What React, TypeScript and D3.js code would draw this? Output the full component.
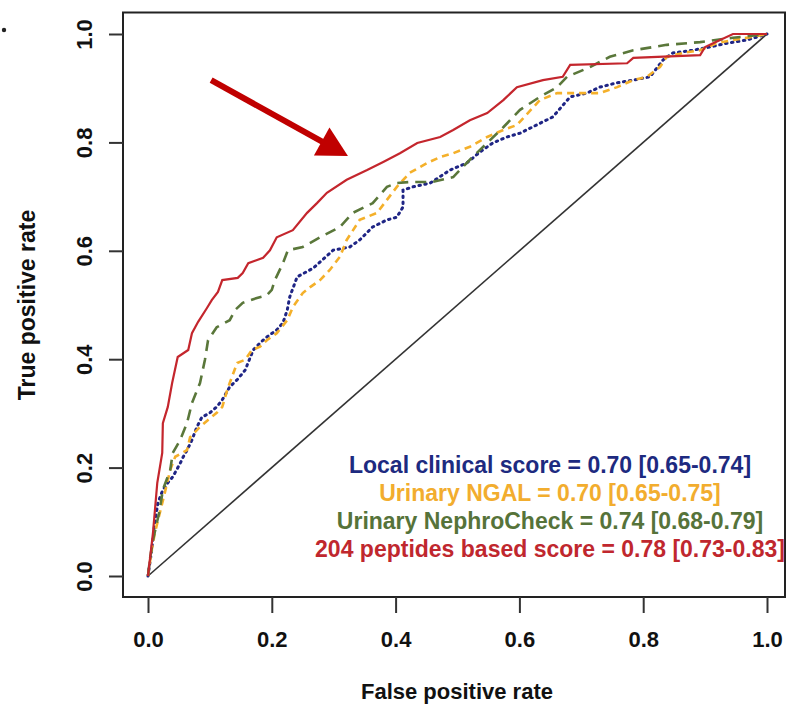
import React, { useEffect, useRef } from "react";
import * as d3 from "d3";

// ROC points: [false positive rate, true positive rate]
const localClinical: [number, number][] = [
  [0, 0], [0.006, 0.048], [0.011, 0.098], [0.016, 0.135], [0.024, 0.159], [0.032, 0.172],
  [0.04, 0.183], [0.052, 0.208], [0.057, 0.22], [0.063, 0.232], [0.071, 0.251], [0.079, 0.275],
  [0.087, 0.293], [0.1, 0.301], [0.111, 0.312], [0.12, 0.325], [0.132, 0.349], [0.144, 0.362],
  [0.157, 0.38], [0.17, 0.417], [0.181, 0.43], [0.192, 0.441], [0.208, 0.454], [0.218, 0.467],
  [0.225, 0.491], [0.229, 0.515], [0.241, 0.552], [0.267, 0.568], [0.299, 0.601], [0.326, 0.607],
  [0.342, 0.62], [0.363, 0.644], [0.386, 0.657], [0.402, 0.662], [0.412, 0.681], [0.412, 0.712],
  [0.428, 0.718], [0.456, 0.725], [0.488, 0.749], [0.515, 0.762], [0.536, 0.782], [0.557, 0.799],
  [0.58, 0.81], [0.601, 0.817], [0.654, 0.847], [0.682, 0.884], [0.709, 0.891], [0.73, 0.902],
  [0.758, 0.91], [0.784, 0.915], [0.811, 0.921], [0.832, 0.952], [0.848, 0.965], [0.88, 0.97],
  [0.908, 0.976], [0.935, 0.983], [0.968, 0.989], [1, 1],
];

const ngal: [number, number][] = [
  [0, 0], [0.006, 0.048], [0.011, 0.079], [0.019, 0.116], [0.027, 0.153], [0.036, 0.196],
  [0.044, 0.22], [0.063, 0.232], [0.068, 0.256], [0.084, 0.275], [0.097, 0.288], [0.111, 0.301],
  [0.12, 0.312], [0.128, 0.343], [0.132, 0.356], [0.144, 0.393], [0.157, 0.399], [0.168, 0.417],
  [0.181, 0.423], [0.192, 0.435], [0.208, 0.448], [0.225, 0.472], [0.234, 0.496], [0.25, 0.522],
  [0.262, 0.533], [0.278, 0.546], [0.294, 0.565], [0.31, 0.589], [0.321, 0.62], [0.342, 0.657],
  [0.37, 0.67], [0.386, 0.694], [0.402, 0.718], [0.423, 0.744], [0.451, 0.762], [0.472, 0.773],
  [0.493, 0.78], [0.52, 0.792], [0.548, 0.81], [0.574, 0.823], [0.596, 0.832], [0.633, 0.878],
  [0.661, 0.891], [0.73, 0.891], [0.758, 0.902], [0.784, 0.915], [0.806, 0.921], [0.827, 0.939],
  [0.838, 0.958], [0.864, 0.965], [0.892, 0.97], [0.919, 0.983], [0.945, 0.989], [0.973, 0.994],
  [1, 1],
];

const nephroCheck: [number, number][] = [
  [0, 0], [0.003, 0.03], [0.008, 0.066], [0.019, 0.122], [0.024, 0.159], [0.036, 0.196],
  [0.04, 0.227], [0.052, 0.251], [0.063, 0.282], [0.071, 0.319], [0.084, 0.356], [0.092, 0.399],
  [0.097, 0.435], [0.111, 0.459], [0.132, 0.472], [0.141, 0.491], [0.153, 0.504], [0.176, 0.513],
  [0.192, 0.518], [0.2, 0.528], [0.205, 0.546], [0.218, 0.577], [0.226, 0.601], [0.25, 0.607],
  [0.278, 0.625], [0.31, 0.644], [0.331, 0.67], [0.363, 0.688], [0.386, 0.718], [0.402, 0.725],
  [0.423, 0.727], [0.46, 0.727], [0.493, 0.736], [0.52, 0.768], [0.548, 0.799], [0.574, 0.828],
  [0.601, 0.86], [0.633, 0.884], [0.661, 0.902], [0.677, 0.921], [0.714, 0.939], [0.746, 0.958],
  [0.784, 0.97], [0.838, 0.98], [0.892, 0.985], [0.945, 0.993], [1, 1],
];

const peptides: [number, number][] = [
  [0, 0], [0.008, 0.079], [0.015, 0.172], [0.023, 0.227], [0.024, 0.282], [0.032, 0.312],
  [0.039, 0.356], [0.048, 0.404], [0.065, 0.417], [0.071, 0.448], [0.081, 0.469], [0.095, 0.494],
  [0.103, 0.509], [0.113, 0.524], [0.12, 0.546], [0.145, 0.55], [0.153, 0.559], [0.162, 0.577],
  [0.186, 0.587], [0.197, 0.601], [0.208, 0.625], [0.234, 0.638], [0.257, 0.67], [0.273, 0.688],
  [0.289, 0.707], [0.321, 0.731], [0.354, 0.749], [0.38, 0.764], [0.407, 0.78], [0.435, 0.799],
  [0.472, 0.81], [0.493, 0.823], [0.52, 0.841], [0.548, 0.854], [0.574, 0.878], [0.596, 0.902],
  [0.638, 0.915], [0.67, 0.921], [0.682, 0.943], [0.774, 0.946], [0.784, 0.956], [0.892, 0.961],
  [0.9, 0.976], [0.913, 0.983], [0.945, 1], [1, 1],
];

const legendLabels = [
  "Local clinical score = 0.70 [0.65-0.74]",
  "Urinary NGAL = 0.70 [0.65-0.75]",
  "Urinary NephroCheck = 0.74 [0.68-0.79]",
  "204 peptides based score = 0.78 [0.73-0.83]",
];
const ticks = [0, 0.2, 0.4, 0.6, 0.8, 1.0];

const series = [
  { data: localClinical, color: "#1f2585", dash: "1.5,4.5", width: 3, text: "#1d2a80" },
  { data: ngal, color: "#f4b02a", dash: "7,5", width: 2.6, text: "#f2ad2e" },
  { data: nephroCheck, color: "#5a773a", dash: "11,7", width: 2.6, text: "#56733a" },
  { data: peptides, color: "#c4262d", dash: null, width: 2.2, text: "#c0272e" },
];

// arrow annotation in data units
const arrowFrom: [number, number] = [0.102, 0.915];
const arrowTo: [number, number] = [0.323, 0.775];

const W = 787;
const H = 711;
const FONT = "'Liberation Sans', Arial, Helvetica, sans-serif";

export default function App() {
  const ref = useRef<SVGSVGElement | null>(null);

  useEffect(() => {
    const svg = d3.select(ref.current);
    svg.selectAll("*").remove();

    const x = d3.scaleLinear().domain([0, 1]).range([148, 767]);
    const y = d3.scaleLinear().domain([0, 1]).range([576, 34]);

    svg.append("rect").attr("width", W).attr("height", H).attr("fill", "#fff");

    // frame
    svg.append("rect")
      .attr("x", 123).attr("y", 12.5)
      .attr("width", 662).attr("height", 584.5)
      .attr("fill", "none").attr("stroke", "#222").attr("stroke-width", 2);

    // x axis
    const xAxis = svg.append("g")
      .attr("transform", "translate(0,597)")
      .call(d3.axisBottom(x).tickValues(ticks).tickFormat(d3.format(".1f")).tickSize(16).tickPadding(18));
    xAxis.select(".domain").remove();
    xAxis.selectAll("line").attr("stroke", "#333").attr("stroke-width", 2);
    xAxis.selectAll("text")
      .attr("font-family", FONT).attr("font-size", 22).attr("font-weight", "bold").attr("fill", "#111");

    // y axis, labels parallel to the axis
    const yAxis = svg.append("g")
      .attr("transform", "translate(123,0)")
      .call(d3.axisLeft(y).tickValues(ticks).tickFormat(d3.format(".1f")).tickSize(14));
    yAxis.select(".domain").remove();
    yAxis.selectAll("line").attr("stroke", "#333").attr("stroke-width", 2);
    yAxis.selectAll("text").remove();
    yAxis.selectAll(".tick").append("text")
      .attr("transform", "translate(-31,0) rotate(-90)")
      .attr("text-anchor", "middle")
      .attr("font-family", FONT).attr("font-size", 22).attr("font-weight", "bold").attr("fill", "#111")
      .text(d => d3.format(".1f")(d as number));

    // axis titles
    svg.append("text")
      .attr("x", 457).attr("y", 699)
      .attr("text-anchor", "middle")
      .attr("font-family", FONT).attr("font-size", 22).attr("font-weight", "bold").attr("fill", "#111")
      .text("False positive rate");
    svg.append("text")
      .attr("transform", "translate(35,305) rotate(-90)")
      .attr("text-anchor", "middle")
      .attr("font-family", FONT).attr("font-size", 23).attr("font-weight", "bold").attr("fill", "#111")
      .text("True positive rate");

    // chance diagonal
    svg.append("line")
      .attr("x1", x(0)).attr("y1", y(0)).attr("x2", x(1)).attr("y2", y(1))
      .attr("stroke", "#333").attr("stroke-width", 1.6);

    const line = d3.line<[number, number]>().x(d => x(d[0])).y(d => y(d[1]));

    series.forEach(s => {
      svg.append("path")
        .attr("d", line(s.data))
        .attr("fill", "none")
        .attr("stroke", s.color)
        .attr("stroke-width", s.width)
        .attr("stroke-linecap", s.dash && s.dash.startsWith("1.5") ? "round" : "butt")
        .attr("stroke-dasharray", s.dash ?? null);
    });

    // legend text
    legendLabels.forEach((t, i) => {
      svg.append("text")
        .attr("x", 550).attr("y", 473 + i * 28)
        .attr("text-anchor", "middle")
        .attr("font-family", FONT).attr("font-size", 23).attr("font-weight", "bold")
        .attr("fill", series[i].text)
        .text(t);
    });

    // red arrow
    const ax0 = x(arrowFrom[0]), ay0 = y(arrowFrom[1]);
    const ax1 = x(arrowTo[0]), ay1 = y(arrowTo[1]);
    const ang = Math.atan2(ay1 - ay0, ax1 - ax0);
    const headLen = 30, headHalf = 16;
    const bx = ax1 - headLen * Math.cos(ang), by = ay1 - headLen * Math.sin(ang);
    svg.append("line")
      .attr("x1", ax0).attr("y1", ay0).attr("x2", bx + 2 * Math.cos(ang)).attr("y2", by + 2 * Math.sin(ang))
      .attr("stroke", "#c00000").attr("stroke-width", 6);
    svg.append("polygon")
      .attr("points", [
        [ax1, ay1],
        [bx - headHalf * Math.sin(ang), by + headHalf * Math.cos(ang)],
        [bx + headHalf * Math.sin(ang), by - headHalf * Math.cos(ang)],
      ].map(p => p.join(",")).join(" "))
      .attr("fill", "#c00000");

    // stray dot at top-left
    svg.append("circle").attr("cx", 4).attr("cy", 30).attr("r", 2.2).attr("fill", "#222");
  }, []);

  return (
    <svg ref={ref} width={W} height={H}
      style={{ position: "absolute", left: 0, top: 0, display: "block" }} />
  );
}
